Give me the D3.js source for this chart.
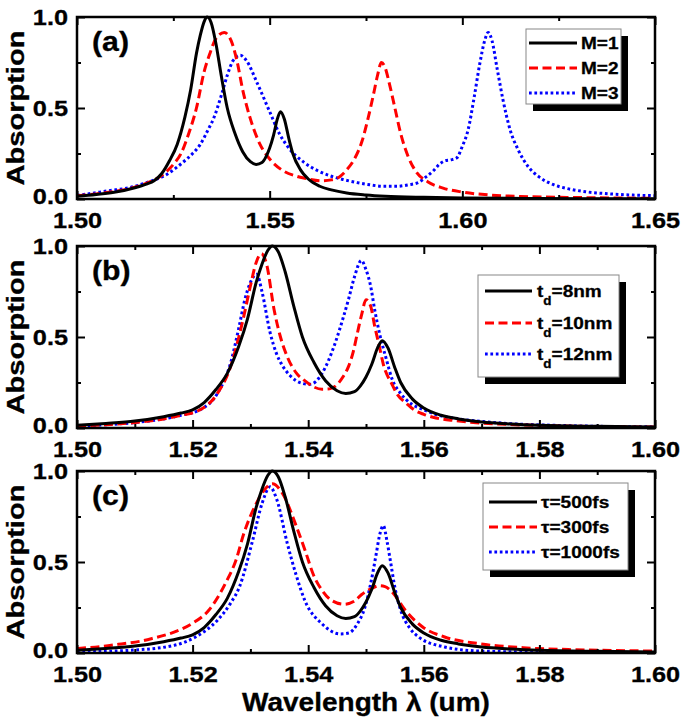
<!DOCTYPE html>
<html><head><meta charset="utf-8">
<script src="https://cdn.jsdelivr.net/npm/d3@7"></script>
<style>
html,body{margin:0;padding:0;background:#fff;}
svg{display:block;}
text{font-family:"Liberation Sans",Arial,sans-serif;font-weight:bold;fill:#000;stroke:#000;stroke-width:0.3px;}
</style></head><body>
<svg id="chart" width="686" height="724"></svg>
<script>
// ---------- DATA ----------
const panelLabels = ["(a)", "(b)", "(c)"];
const yTicks = [0.0, 0.5, 1.0];
const yMinorTicks = [0.25, 0.75];
const xTicksA = [1.50, 1.55, 1.60, 1.65];
const xMinorTicksA = [1.525, 1.575, 1.625];
const xTicksBC = [1.50, 1.52, 1.54, 1.56, 1.58, 1.60];
const xMinorTicksBC = [1.51, 1.53, 1.55, 1.57, 1.59];
const legendA = ["M=1", "M=2", "M=3"];
const legendB = ["8nm", "10nm", "12nm"];
const legendC = ["\u03c4=500fs", "\u03c4=300fs", "\u03c4=1000fs"];
const xTitle = "Wavelength \u03bb (um)";
const yTitle = "Absorption";

// baseline spectrum (M=1, t_d=8nm, tau=500fs) [wavelength, absorption]
const base = [[1.500,0.015],[1.505,0.025],[1.510,0.038],[1.515,0.062],[1.518,0.082],[1.520,0.10],[1.522,0.14],[1.524,0.21],[1.526,0.30],[1.528,0.45],[1.5295,0.60],[1.531,0.80],[1.532,0.90],[1.533,0.975],[1.5338,1.0],[1.5348,0.97],[1.536,0.86],[1.5375,0.67],[1.539,0.50],[1.541,0.36],[1.543,0.26],[1.545,0.205],[1.5465,0.19],[1.548,0.20],[1.549,0.23],[1.550,0.28],[1.551,0.35],[1.552,0.44],[1.5528,0.48],[1.5538,0.44],[1.555,0.33],[1.556,0.25],[1.558,0.16],[1.560,0.11],[1.563,0.07],[1.566,0.05],[1.570,0.033],[1.575,0.022],[1.580,0.015],[1.590,0.009],[1.600,0.006],[1.620,0.003],[1.650,0.001]];

const aM2 = [[1.500,0.018],[1.505,0.028],[1.510,0.042],[1.515,0.065],[1.519,0.095],[1.522,0.13],[1.525,0.19],[1.527,0.25],[1.529,0.36],[1.531,0.50],[1.533,0.70],[1.5345,0.80],[1.536,0.88],[1.5382,0.915],[1.540,0.87],[1.5415,0.76],[1.543,0.60],[1.545,0.44],[1.5475,0.30],[1.550,0.22],[1.5535,0.155],[1.557,0.125],[1.560,0.11],[1.5635,0.10],[1.566,0.105],[1.568,0.12],[1.570,0.16],[1.572,0.22],[1.574,0.32],[1.5755,0.44],[1.577,0.58],[1.578,0.68],[1.579,0.75],[1.580,0.72],[1.581,0.64],[1.5825,0.50],[1.584,0.36],[1.586,0.23],[1.588,0.15],[1.591,0.095],[1.595,0.06],[1.600,0.038],[1.607,0.022],[1.615,0.014],[1.630,0.008],[1.650,0.004]];

const aM3 = [[1.500,0.02],[1.5025,0.027],[1.508,0.045],[1.5138,0.063],[1.518,0.09],[1.5229,0.13],[1.5274,0.20],[1.530,0.25],[1.532,0.30],[1.534,0.38],[1.5354,0.44],[1.5376,0.58],[1.539,0.68],[1.5405,0.76],[1.5424,0.79],[1.544,0.76],[1.5467,0.64],[1.550,0.48],[1.5525,0.36],[1.5546,0.29],[1.559,0.20],[1.5625,0.155],[1.566,0.125],[1.5695,0.105],[1.5727,0.09],[1.576,0.078],[1.5795,0.07],[1.583,0.07],[1.586,0.078],[1.5885,0.09],[1.5905,0.12],[1.5925,0.155],[1.594,0.19],[1.5955,0.21],[1.597,0.215],[1.5985,0.225],[1.600,0.29],[1.6015,0.38],[1.603,0.55],[1.6045,0.74],[1.6058,0.87],[1.6067,0.915],[1.6077,0.87],[1.609,0.72],[1.6105,0.55],[1.6124,0.38],[1.6145,0.27],[1.617,0.18],[1.620,0.12],[1.6235,0.08],[1.6271,0.058],[1.632,0.04],[1.6385,0.028],[1.645,0.021],[1.650,0.018]];

const bTd10 = [[1.500,0.012],[1.505,0.018],[1.510,0.03],[1.515,0.05],[1.518,0.07],[1.5213,0.10],[1.5243,0.19],[1.5266,0.34],[1.528,0.50],[1.5289,0.62],[1.530,0.78],[1.531,0.91],[1.5319,0.958],[1.5328,0.90],[1.5341,0.65],[1.5352,0.50],[1.5364,0.39],[1.538,0.30],[1.5394,0.26],[1.541,0.225],[1.5424,0.213],[1.5437,0.215],[1.5447,0.23],[1.546,0.28],[1.547,0.34],[1.5478,0.42],[1.5485,0.52],[1.5493,0.63],[1.550,0.705],[1.5508,0.67],[1.5515,0.56],[1.5523,0.45],[1.553,0.35],[1.5545,0.24],[1.5553,0.19],[1.557,0.135],[1.5583,0.10],[1.560,0.075],[1.5621,0.055],[1.5655,0.04],[1.5696,0.028],[1.575,0.019],[1.580,0.014],[1.590,0.008],[1.600,0.005]];

const bTd12 = [[1.500,0.012],[1.505,0.018],[1.510,0.03],[1.515,0.05],[1.518,0.07],[1.5213,0.10],[1.5243,0.19],[1.5266,0.36],[1.528,0.55],[1.529,0.70],[1.530,0.80],[1.5311,0.845],[1.532,0.75],[1.5334,0.525],[1.5345,0.41],[1.5356,0.34],[1.5368,0.29],[1.5379,0.26],[1.539,0.245],[1.5402,0.24],[1.5413,0.255],[1.5424,0.30],[1.5435,0.37],[1.5447,0.47],[1.546,0.60],[1.547,0.71],[1.548,0.83],[1.5492,0.92],[1.550,0.87],[1.5508,0.78],[1.5515,0.65],[1.5523,0.525],[1.5535,0.38],[1.5545,0.27],[1.556,0.19],[1.5576,0.138],[1.560,0.10],[1.5621,0.074],[1.566,0.05],[1.5696,0.037],[1.575,0.024],[1.5847,0.013],[1.600,0.006]];

const cTau300 = [[1.500,0.025],[1.504,0.035],[1.5077,0.05],[1.511,0.065],[1.513,0.08],[1.5168,0.115],[1.5198,0.16],[1.5228,0.235],[1.5258,0.39],[1.5275,0.51],[1.5289,0.66],[1.531,0.82],[1.5325,0.90],[1.5338,0.93],[1.5355,0.88],[1.5379,0.70],[1.5395,0.56],[1.5409,0.43],[1.5425,0.34],[1.544,0.29],[1.5462,0.268],[1.548,0.285],[1.5492,0.32],[1.551,0.355],[1.5523,0.37],[1.5533,0.365],[1.5545,0.336],[1.5568,0.235],[1.5598,0.143],[1.5636,0.088],[1.5696,0.051],[1.5772,0.029],[1.585,0.019],[1.600,0.011]];

const cTau1000 = [[1.500,0.006],[1.5092,0.015],[1.5168,0.042],[1.5205,0.088],[1.5243,0.18],[1.5265,0.27],[1.5281,0.363],[1.5304,0.62],[1.532,0.82],[1.5334,0.913],[1.5345,0.85],[1.5364,0.60],[1.5379,0.43],[1.5394,0.29],[1.5424,0.16],[1.5455,0.105],[1.547,0.11],[1.5485,0.16],[1.5498,0.25],[1.5508,0.38],[1.5518,0.55],[1.5523,0.64],[1.553,0.70],[1.5536,0.62],[1.5542,0.51],[1.555,0.36],[1.556,0.235],[1.5575,0.14],[1.5591,0.088],[1.5636,0.033],[1.5696,0.011],[1.580,0.005],[1.600,0.003]];

// ---------- LAYOUT ----------
const svg = d3.select("#chart");
const L = 77, R = 655;
const panelTops = [17, 246, 471];
const panelH = 182;
const SX = 1.15; // horizontal stretch of the heavy tick lettering
const styles = [
  {color:"#000000", dash:null},
  {color:"#ff0000", dash:"9,4.5"},
  {color:"#0000ff", dash:"2.7,2.7"}
];
const panels = [
  {domain:[1.50,1.65], ticks:xTicksA, minor:xMinorTicksA, series:[base, aM2, aM3], legend:{type:"plain", labels:legendA, x:526, y:29, w:95, h:75, rows:[43,68,93], lx0:529, lx1:577, tx:581}},
  {domain:[1.50,1.60], ticks:xTicksBC, minor:xMinorTicksBC, series:[base, bTd10, bTd12], legend:{type:"td", labels:legendB, x:478, y:275, w:141, h:102, rows:[291,323,354], lx0:485, lx1:532, tx:537}},
  {domain:[1.50,1.60], ticks:xTicksBC, minor:xMinorTicksBC, series:[base, cTau300, cTau1000], legend:{type:"plain", labels:legendC, x:483, y:483, w:145, h:87, rows:[502,527,552], lx0:489, lx1:537, tx:541}}
];

function stretchText(sel, x, y, s) {
  return sel.attr("x", 0).attr("y", 0).attr("transform", `translate(${x},${y}) scale(${s},1)`);
}

panels.forEach((p, i) => {
  const top = panelTops[i], bot = top + panelH;
  const x = d3.scaleLinear().domain(p.domain).range([L, R]);
  const y = d3.scaleLinear().domain([0, 1]).range([bot, top]);
  const g = svg.append("g");

  const clipId = "clip" + i;
  svg.append("clipPath").attr("id", clipId).append("rect")
    .attr("x", L).attr("y", top - 2).attr("width", R - L).attr("height", panelH + 2);

  const line = d3.line().x(d => x(d[0])).y(d => y(d[1])).curve(d3.curveMonotoneX);
  [2, 1, 0].forEach(k => {
    const s = styles[k];
    const data = p.series[k].filter(d => d[0] >= p.domain[0] - 1e-9 && d[0] <= p.domain[1] + 1e-9);
    g.append("path").datum(data)
      .attr("clip-path", `url(#${clipId})`)
      .attr("d", line)
      .attr("fill", "none")
      .attr("stroke", s.color)
      .attr("stroke-width", 3)
      .attr("stroke-dasharray", s.dash);
  });

  const axStyle = sel => { sel.select(".domain").remove(); sel.selectAll("line").attr("stroke", "#000").attr("stroke-width", 2); };
  const fontSet = sel => sel.attr("font-size", 22).attr("font-family", "Liberation Sans, Arial, sans-serif").attr("font-weight", "bold").attr("fill", "#000");

  g.append("g").attr("transform", `translate(0,${bot})`)
    .call(d3.axisBottom(x).tickValues(p.ticks).tickFormat(d3.format(".2f")).tickSizeInner(-8).tickSizeOuter(0).tickPadding(13))
    .call(axStyle)
    .call(s => s.selectAll("text").call(fontSet).attr("transform", `scale(${SX},1)`));
  g.append("g").attr("transform", `translate(0,${bot})`)
    .call(d3.axisBottom(x).tickValues(p.minor).tickFormat("").tickSizeInner(-4).tickSizeOuter(0)).call(axStyle);
  g.append("g").attr("transform", `translate(0,${top})`)
    .call(d3.axisTop(x).tickValues(p.ticks).tickFormat("").tickSizeInner(-8).tickSizeOuter(0)).call(axStyle);
  g.append("g").attr("transform", `translate(0,${top})`)
    .call(d3.axisTop(x).tickValues(p.minor).tickFormat("").tickSizeInner(-4).tickSizeOuter(0)).call(axStyle);
  g.append("g").attr("transform", `translate(${L},0)`)
    .call(d3.axisLeft(y).tickValues(yTicks).tickFormat(d3.format(".1f")).tickSizeInner(-8).tickSizeOuter(0).tickPadding(10))
    .call(axStyle)
    .call(s => s.selectAll("text").call(fontSet)
      .attr("x", -9 / SX)
      .attr("dy", d => d === 0 ? "0.22em" : "0.32em")
      .attr("transform", `scale(${SX},1)`));
  g.append("g").attr("transform", `translate(${L},0)`)
    .call(d3.axisLeft(y).tickValues(yMinorTicks).tickFormat("").tickSizeInner(-4).tickSizeOuter(0)).call(axStyle);
  g.append("g").attr("transform", `translate(${R},0)`)
    .call(d3.axisRight(y).tickValues(yTicks).tickFormat("").tickSizeInner(-8).tickSizeOuter(0)).call(axStyle);
  g.append("g").attr("transform", `translate(${R},0)`)
    .call(d3.axisRight(y).tickValues(yMinorTicks).tickFormat("").tickSizeInner(-4).tickSizeOuter(0)).call(axStyle);

  g.append("rect").attr("x", L).attr("y", top).attr("width", R - L).attr("height", panelH)
    .attr("fill", "none").attr("stroke", "#000").attr("stroke-width", 2.5);

  // panel label
  stretchText(g.append("text"), 92, top + 34, 1.12).attr("font-size", 27).text(panelLabels[i]);

  // y title
  g.append("text").attr("transform", `translate(24,${top + panelH / 2}) rotate(-90) scale(1.21,1)`)
    .attr("text-anchor", "middle").attr("font-size", 24).text(yTitle);

  // legend
  const lg = p.legend;
  g.append("rect").attr("x", lg.x + 7).attr("y", lg.y + 7).attr("width", lg.w).attr("height", lg.h).attr("fill", "#000");
  g.append("rect").attr("x", lg.x).attr("y", lg.y).attr("width", lg.w).attr("height", lg.h).attr("fill", "#fff").attr("stroke", "#888").attr("stroke-width", 1);
  lg.labels.forEach((lab, k) => {
    const s = styles[k];
    const ry = lg.rows[k];
    g.append("line").attr("x1", lg.lx0).attr("x2", lg.lx1).attr("y1", ry).attr("y2", ry)
      .attr("stroke", s.color).attr("stroke-width", 3).attr("stroke-dasharray", s.dash);
    const t = stretchText(g.append("text"), lg.tx, ry + 6, 1.12).attr("font-size", 17);
    if (lg.type === "td") {
      t.append("tspan").text("t");
      t.append("tspan").attr("font-size", 12).attr("dy", 8).text("d");
      t.append("tspan").attr("dy", -8).text("=" + lab);
    } else {
      t.text(lab);
    }
  });
});

// x title
stretchText(svg.append("text"), (L + R) / 2, 711, 1.12).attr("text-anchor", "middle").attr("font-size", 25).text(xTitle);
</script>
</body></html>
